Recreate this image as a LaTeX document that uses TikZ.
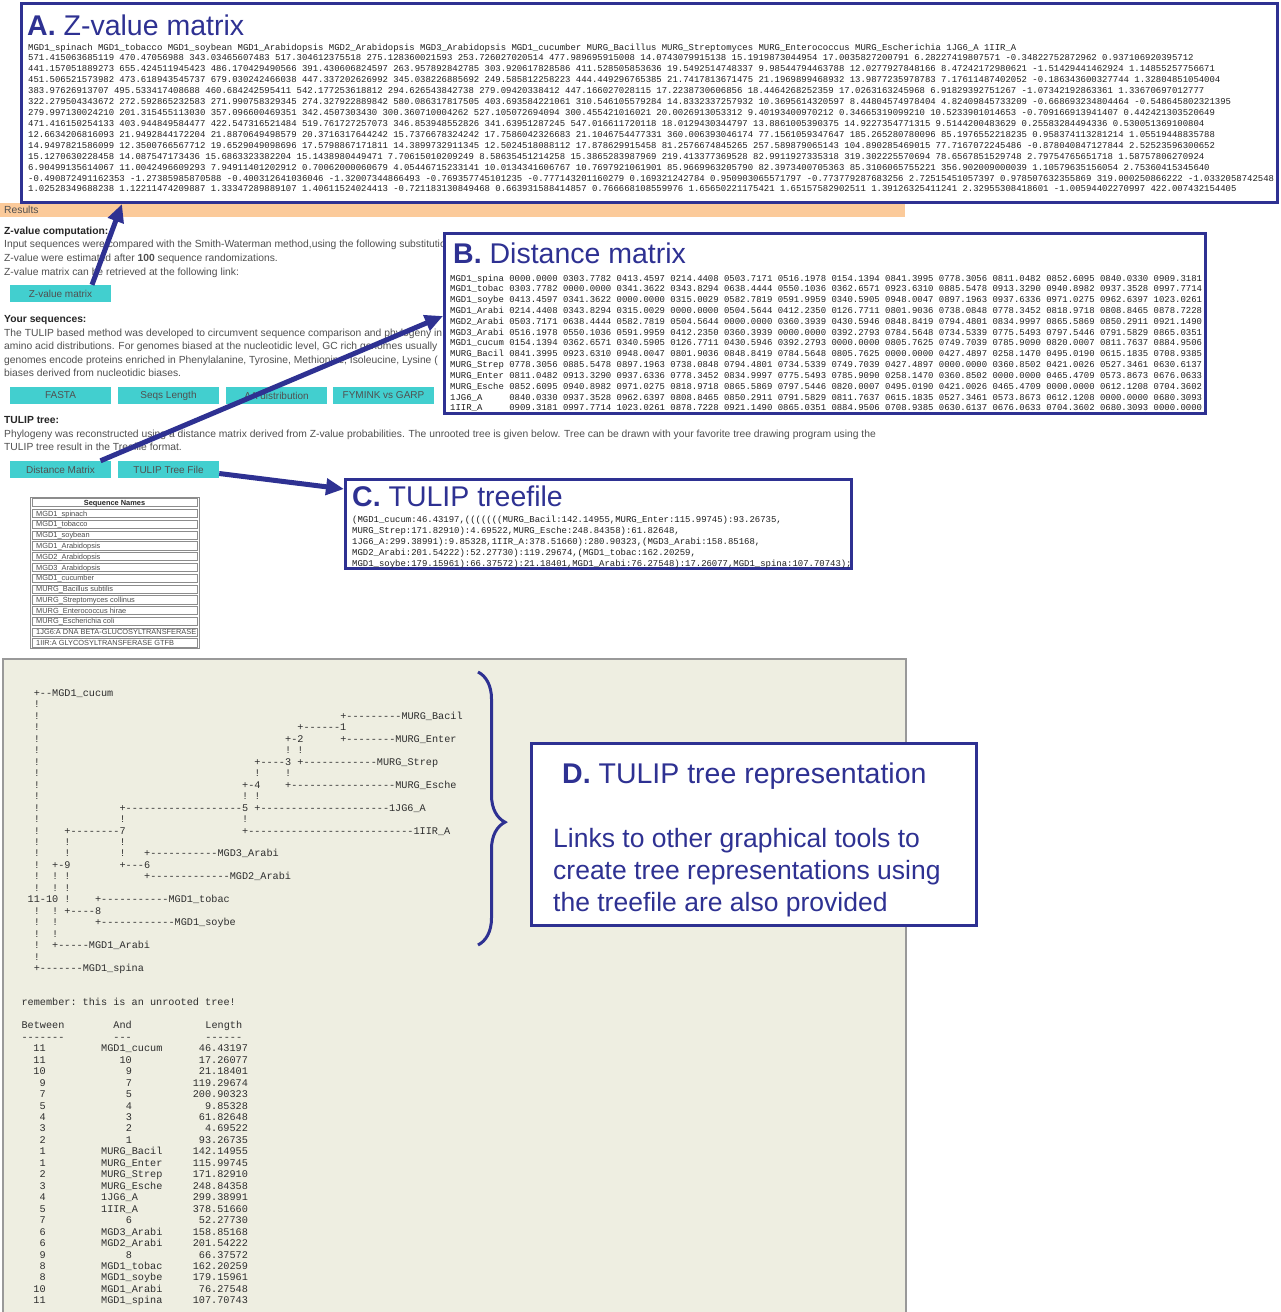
\documentclass[tikz,border=0pt]{standalone}
\usepackage{fontspec}
\setmainfont{Liberation Sans}
\setmonofont{Liberation Mono}
\usetikzlibrary{positioning,arrows.meta,decorations.pathreplacing}
\definecolor{boxblue}{RGB}{46,49,146}
\definecolor{btncyan}{RGB}{66,207,207}
\definecolor{resbar}{RGB}{251,202,154}
\definecolor{panelbg}{RGB}{238,238,225}
\definecolor{webgray}{RGB}{80,80,80}
\newcommand*{\fsz}[1]{\fontsize{#1}{#1}\selectfont}
\newcommand*{\mono}[1]{\ttfamily\fontsize{#1}{#1}\selectfont}
\tikzset{
  panel/.style={draw=boxblue,line width=3pt,fill=white,inner sep=0pt},
  ptitle/.style={anchor=base west,inner sep=0pt,text=boxblue,font=\fsz{28.5}},
  ptext/.style={anchor=base west,inner sep=0pt,text=boxblue,font=\fsz{26.5}},
  webtxt/.style={anchor=base west,inner sep=0pt,text=webgray,font=\fsz{10.3}},
  webhead/.style={webtxt,text=black!85,font=\bfseries\fsz{10.3}},
  button/.style={fill=btncyan,minimum width=101pt,minimum height=17pt,inner sep=0pt,text=webgray,font=\fsz{10}},
  seqcell/.style={draw=black!45,line width=.6pt},
  seqtxt/.style={anchor=base west,inner sep=0pt,text=black!70,font=\fsz{7.4}},
  zrow/.style={anchor=base west,inner sep=0pt,text=black!88,font=\mono{8.95}},
  asc/.style={anchor=base west,inner sep=0pt,text=black!82,font=\mono{10.2}},
  linkarrow/.style={draw=boxblue,line width=5pt,-{Triangle[length=18pt,width=16pt]}}
}

\begin{document}
\begin{tikzpicture}[x=1pt,y=-1pt]
\useasboundingbox (0,0) rectangle (1281,1312);
\fill[white] (0,0) rectangle (1281,1312);

% results page
\fill[resbar] (0,203) rectangle (905,217);
\node[webtxt] (res) at (4,213.5) {Results};
\node[webhead] (zhead) at (4,234.5) {Z-value computation:};
\node[webtxt] (zl1) at (4,247.5) {Input sequences were compared with the Smith-Waterman method,using the following substitution};
\node[webtxt] (zl2) at (4,261.5) {Z-value were estimated after \textbf{100} sequence randomizations.};
\node[webtxt] (zl3) at (4,275.5) {Z-value matrix can be retrieved at the following link:};
\node[button] (zbtn) at (60.5,293.5) {Z-value matrix};
\node[webhead] (yhead) at (4,322.5) {Your sequences:};
\node[webtxt] (yl1) at (4,336.5) {The TULIP based method was developed to circumvent sequence comparison and phylogeny in};
\node[webtxt] (yl2) at (4,349.5) {amino acid distributions. For genomes biased at the nucleotidic level, GC rich genomes usually};
\node[webtxt] (yl3) at (4,363.5) {genomes encode proteins enriched in Phenylalanine, Tyrosine, Methionine, Isoleucine, Lysine (};
\node[webtxt] (yl4) at (4,376.5) {biases derived from nucleotidic biases.};
\node[button] (fbtn) at (60.5,395.5) {FASTA};
\node[button] (sbtn) at (168.5,395.5) {Seqs Length};
\node[button] (abtn) at (276.5,395.5) {AA distribution};
\node[button] (gbtn) at (383.5,395.5) {FYMINK vs GARP};
\node[webhead] (thead) at (4,423.5) {TULIP tree:};
\node[webtxt] (tl1) at (4,437.5) {Phylogeny was reconstructed using a distance matrix derived from Z-value probabilities. The unrooted tree is given below. Tree can be drawn with your favorite tree drawing program using the};
\node[webtxt] (tl2) at (4,450.5) {TULIP tree result in the Treefile format.};
\node[button] (dbtn) at (60.5,469.5) {Distance Matrix};
\node[button] (tbtn) at (168.5,469.5) {TULIP Tree File};

% sequence names
\draw[seqcell] (30,497) rectangle (199,648);
\foreach \i in {0,...,13}
  \draw[seqcell] (32,{498.5+10.79*\i}) rectangle (197,{496+10.79*(\i+1)});
\node[seqtxt,anchor=base,text=black!85,font=\bfseries\fsz{7.4}] (seqhead) at (114.5,505.3) {Sequence Names};
\foreach \nm [count=\i] in {MGD1\_spinach,MGD1\_tobacco,MGD1\_soybean,MGD1\_Arabidopsis,MGD2\_Arabidopsis,
  MGD3\_Arabidopsis,MGD1\_cucumber,MURG\_Bacillus subtilis,MURG\_Streptomyces collinus,MURG\_Enterococcus hirae,
  MURG\_Escherichia coli,1JG6:A DNA BETA-GLUCOSYLTRANSFERASE,1IIR:A GLYCOSYLTRANSFERASE GTFB}
  \node[seqtxt] (sq\i) at (36,{505.3+10.79*\i}) {\nm};

% tree output
\draw[black!40,fill=panelbg,line width=1.2pt] (3,659) rectangle (906,1330);
\begin{scope}[xshift=33.6pt,yshift=-696.5pt,x=6.13pt,y=-11.46pt]
\foreach \c/\r/\txt [count=\k] in {0/0/{+--MGD1\_cucum},50/2/{+---------MURG\_Bacil},43/3/{+------1},
  41/4/{+-2},50/4/{+--------MURG\_Enter},36/6/{+----3},43/6/{+------------MURG\_Strep},
  34/8/{+-4},41/8/{+-----------------MURG\_Esche},14/10/{+-------------------5},
  36/10/{+---------------------1JG6\_A},5/12/{+--------7},34/12/{+---------------------------1IIR\_A},
  18/14/{+-----------MGD3\_Arabi},3/15/{+-9},14/15/{+---6},18/16/{+-------------MGD2\_Arabi},
  -1/18/{11-10},10/18/{+-----------MGD1\_tobac},5/19/{+----8},10/20/{+------------MGD1\_soybe},
  3/22/{+-----MGD1\_Arabi},0/24/{+-------MGD1\_spina}}
  \node[asc] (tr\k) at (\c,\r) {\txt};
\foreach \r in {1,...,17,19,20,21,22,23}
  \node[asc] (bar0-\r) at (0,\r) {!};
\foreach \c/\r in {41/5,43/5,36/7,41/7,34/9,36/9,14/11,34/11,5/13,14/13,5/14,14/14,
  3/16,5/16,3/17,5/17,5/18,3/19,3/20,3/21}
  \node[asc] (bar\c-\r) at (\c,\r) {!};
\node[asc] (remark) at (-2,27) {remember: this is an unrooted tree!};
\node[asc] (hbt) at (-2,29) {Between};
\node[asc] (han) at (13,29) {And};
\node[asc] (hln) at (28,29) {Length};
\node[asc] (ubt) at (-2,30) {-------};
\node[asc] (uan) at (13,30) {---};
\node[asc] (uln) at (28,30) {------};
\foreach \bt/\ac/\an/\len [count=\k from 31] in {11/11/MGD1\_cucum/46.43197,11/14/10/17.26077,
  10/15/9/21.18401,9/15/7/119.29674,7/15/5/200.90323,5/15/4/9.85328,4/15/3/61.82648,
  3/15/2/4.69522,2/15/1/93.26735,1/11/MURG\_Bacil/142.14955,1/11/MURG\_Enter/115.99745,
  2/11/MURG\_Strep/171.82910,3/11/MURG\_Esche/248.84358,4/11/1JG6\_A/299.38991,
  5/11/1IIR\_A/378.51660,7/15/6/52.27730,6/11/MGD3\_Arabi/158.85168,6/11/MGD2\_Arabi/201.54222,
  9/15/8/66.37572,8/11/MGD1\_tobac/162.20259,8/11/MGD1\_soybe/179.15961,
  10/11/MGD1\_Arabi/76.27548,11/11/MGD1\_spina/107.70743}
{
  \node[asc,anchor=base east] (bt\k) at (2,\k) {\bt};
  \node[asc] (an\k) at (\ac,\k) {\an};
  \node[asc,anchor=base east] (ln\k) at (35,\k) {\len};
}
\end{scope}

% A. Z-value matrix
\node[panel,minimum width=1256pt,minimum height=199pt] (boxA) at (649.5,103) {};
\node[ptitle] (titA) at (27,35) {\textbf{A.} Z-value matrix};
\foreach \row [count=\i from 0] in {
  {MGD1\_spinach MGD1\_tobacco MGD1\_soybean MGD1\_Arabidopsis MGD2\_Arabidopsis MGD3\_Arabidopsis MGD1\_cucumber MURG\_Bacillus MURG\_Streptomyces MURG\_Enterococcus MURG\_Escherichia 1JG6\_A 1IIR\_A},
  {571.415063685119 470.47056988 343.03465607483 517.304612375518 275.128360021593 253.726027020514 477.989695915008 14.0743079915138 15.1919873044954 17.0035827200791 6.28227419807571 -0.34822752872962 0.937106920395712},
  {441.157051889273 655.424511945423 486.170429490566 391.430606824597 263.957892842785 303.920617828586 411.528505853636 19.5492514748337 9.98544794463788 12.0277927848166 8.47242172980621 -1.51429441462924 1.14855257756671},
  {451.506521573982 473.618943545737 679.030242466038 447.337202626992 345.038226885692 249.585812258223 444.449296765385 21.7417813671475 21.1969899468932 13.9877235978783 7.17611487402052 -0.186343600327744 1.32804851054004},
  {383.97626913707 495.533417408688 460.684242595411 542.177253618812 294.626543842738 279.09420338412 447.166027028115 17.2238730606856 18.4464268252359 17.0263163245968 6.91829392751267 -1.07342192863361 1.33670697012777},
  {322.279504343672 272.592865232583 271.990758329345 274.327922889842 580.086317817505 403.693584221061 310.546105579284 14.8332337257932 10.3695614320597 8.44804574978404 4.82409845733209 -0.668693234804464 -0.548645802321395},
  {279.997130024210 201.315455113030 357.096600469351 342.4507303430 300.360710004262 527.105072694094 300.455421016021 20.0026913053312 9.40193400970212 0.34665319099210 10.5233901014653 -0.709166913941407 0.442421303520649},
  {471.416150254133 403.944849584477 422.547316521484 519.761727257073 346.853948552826 341.63951287245 547.016611720118 18.0129430344797 13.8861005390375 14.9227354771315 9.5144200483629 0.25583284494336 0.530051369100804},
  {12.6634206816093 21.9492844172204 21.8870649498579 20.3716317644242 15.7376678324242 17.7586042326683 21.1046754477331 360.006393046174 77.1561059347647 185.265280780096 85.1976552218235 0.958374113281214 1.05519448835788},
  {14.9497821586099 12.3500766567712 19.6529049098696 17.5798867171811 14.3899732911345 12.5024518088112 17.878629915458 81.2576674845265 257.589879065143 104.890285469015 77.7167072245486 -0.878040847127844 2.52523596300652},
  {15.1270630228458 14.087547173436 15.6863323382204 15.1438980449471 7.70615010209249 8.58635451214258 15.3865283987969 219.413377369528 82.9911927335318 319.302225570694 78.6567851529748 2.79754765651718 1.58757806270924},
  {6.90499135614067 11.0042496609293 7.94911401202912 0.70062000060679 4.05446715233141 10.0134341606767 10.7697921061901 85.9669963205790 82.3973400705363 85.3106065755221 356.902009000039 1.10579635156054 2.75360415345640},
  {-0.490872491162353 -1.27385985870588 -0.400312641036046 -1.32007344866493 -0.769357745101235 -0.777143201160279 0.169321242784 0.950903065571797 -0.773779287683256 2.72515451057397 0.978507632355869 319.000250866222 -1.0332058742548},
  {1.02528349688238 1.12211474209887 1.33347289889107 1.40611524024413 -0.721183130849468 0.663931588414857 0.766668108559976 1.65650221175421 1.65157582902511 1.39126325411241 2.32955308418601 -1.00594402270997 422.007432154405}}
  \node[zrow] (zr\i) at (28,{50+10.92*\i}) {\row};

% B. Distance matrix
\node[panel,minimum width=761pt,minimum height=180pt] (boxB) at (825,323.5) {};
\node[ptitle] (titB) at (453,263) {\textbf{B.} Distance matrix};
\foreach \nm/\vals [count=\i from 0] in {
  MGD1\_spina/{0000.0000 0303.7782 0413.4597 0214.4408 0503.7171 0516.1978 0154.1394 0841.3995 0778.3056 0811.0482 0852.6095 0840.0330 0909.3181},
  MGD1\_tobac/{0303.7782 0000.0000 0341.3622 0343.8294 0638.4444 0550.1036 0362.6571 0923.6310 0885.5478 0913.3290 0940.8982 0937.3528 0997.7714},
  MGD1\_soybe/{0413.4597 0341.3622 0000.0000 0315.0029 0582.7819 0591.9959 0340.5905 0948.0047 0897.1963 0937.6336 0971.0275 0962.6397 1023.0261},
  MGD1\_Arabi/{0214.4408 0343.8294 0315.0029 0000.0000 0504.5644 0412.2350 0126.7711 0801.9036 0738.0848 0778.3452 0818.9718 0808.8465 0878.7228},
  MGD2\_Arabi/{0503.7171 0638.4444 0582.7819 0504.5644 0000.0000 0360.3939 0430.5946 0848.8419 0794.4801 0834.9997 0865.5869 0850.2911 0921.1490},
  MGD3\_Arabi/{0516.1978 0550.1036 0591.9959 0412.2350 0360.3939 0000.0000 0392.2793 0784.5648 0734.5339 0775.5493 0797.5446 0791.5829 0865.0351},
  MGD1\_cucum/{0154.1394 0362.6571 0340.5905 0126.7711 0430.5946 0392.2793 0000.0000 0805.7625 0749.7039 0785.9090 0820.0007 0811.7637 0884.9506},
  MURG\_Bacil/{0841.3995 0923.6310 0948.0047 0801.9036 0848.8419 0784.5648 0805.7625 0000.0000 0427.4897 0258.1470 0495.0190 0615.1835 0708.9385},
  MURG\_Strep/{0778.3056 0885.5478 0897.1963 0738.0848 0794.4801 0734.5339 0749.7039 0427.4897 0000.0000 0360.8502 0421.0026 0527.3461 0630.6137},
  MURG\_Enter/{0811.0482 0913.3290 0937.6336 0778.3452 0834.9997 0775.5493 0785.9090 0258.1470 0360.8502 0000.0000 0465.4709 0573.8673 0676.0633},
  MURG\_Esche/{0852.6095 0940.8982 0971.0275 0818.9718 0865.5869 0797.5446 0820.0007 0495.0190 0421.0026 0465.4709 0000.0000 0612.1208 0704.3602},
  1JG6\_A/{0840.0330 0937.3528 0962.6397 0808.8465 0850.2911 0791.5829 0811.7637 0615.1835 0527.3461 0573.8673 0612.1208 0000.0000 0680.3093},
  1IIR\_A/{0909.3181 0997.7714 1023.0261 0878.7228 0921.1490 0865.0351 0884.9506 0708.9385 0630.6137 0676.0633 0704.3602 0680.3093 0000.0000}}
{
  \node[zrow] (dn\i) at (450,{281+10.83*\i}) {\nm};
  \node[zrow] (dv\i) at (509.1,{281+10.83*\i}) {\vals};
}

% C. TULIP treefile
\node[panel,minimum width=506pt,minimum height=89pt] (boxC) at (598.5,524) {};
\node[ptitle] (titC) at (352,506) {\textbf{C.} TULIP treefile};
\foreach \row [count=\i from 0] in {
  {(MGD1\_cucum:46.43197,(((((((MURG\_Bacil:142.14955,MURG\_Enter:115.99745):93.26735,},
  {MURG\_Strep:171.82910):4.69522,MURG\_Esche:248.84358):61.82648,},
  {1JG6\_A:299.38991):9.85328,1IIR\_A:378.51660):280.90323,(MGD3\_Arabi:158.85168,},
  {MGD2\_Arabi:201.54222):52.27730):119.29674,(MGD1\_tobac:162.20259,},
  {MGD1\_soybe:179.15961):66.37572):21.18401,MGD1\_Arabi:76.27548):17.26077,MGD1\_spina:107.70743);}}
  \node[zrow] (cr\i) at (352,{522+11*\i}) {\row};

% D. tree representation
\draw[boxblue,line width=3pt,decorate,decoration={brace,amplitude=27pt,aspect=0.55}] (478,672) -- (478,945);
\node[panel,minimum width=445pt,minimum height=182pt] (boxD) at (754,834.5) {};
\node[ptitle] (titD) at (562,783) {\textbf{D.} TULIP tree representation};
\node[ptext] (dl1) at (553,847) {Links to other graphical tools to};
\node[ptext] (dl2) at (553,879) {create tree representations using};
\node[ptext] (dl3) at (553,911) {the treefile are also provided};

% links
\draw[linkarrow] ([xshift=31.5pt]zbtn.north) -- ([xshift=102pt]boxA.south west);
\draw[linkarrow] ([xshift=40pt]dbtn.north) -- ([yshift=7.5pt]boxB.west);
\draw[linkarrow] ([yshift=-4pt]tbtn.east) -- ([yshift=35pt]boxC.west);
\end{tikzpicture}
\end{document}
